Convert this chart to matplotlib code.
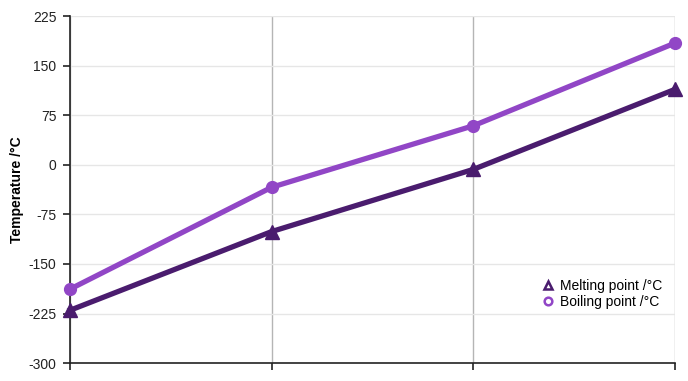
import matplotlib.pyplot as plt
from matplotlib.lines import Line2D

# Halogens: melting and boiling points
ELEMENTS = ["F", "Cl", "Br", "I"]
MELTING = [-220, -101, -7, 114]
BOILING = [-188, -34, 59, 184]
Y_TICKS = [-300, -225, -150, -75, 0, 75, 150, 225]

MELT_COLOR = "#4a1c6e"
BOIL_COLOR = "#9146c6"

plt.rcParams["font.family"] = ["Liberation Sans", "DejaVu Sans"]
plt.rcParams["axes.unicode_minus"] = False

fig = plt.figure(figsize=(6.88, 3.81), dpi=100)
ax = fig.add_axes([0.102, 0.047, 0.879, 0.911])

x = list(range(len(ELEMENTS)))

ax.plot(x, MELTING, color=MELT_COLOR, lw=3.8, marker="^", ms=10, zorder=3, clip_on=False)
ax.plot(x, BOILING, color=BOIL_COLOR, lw=3.8, marker="o", ms=8.5, zorder=3, clip_on=False)

ax.set_xlim(0, 3)
ax.set_ylim(-300, 225)
ax.set_yticks(Y_TICKS)
ax.set_xticks(x)
ax.set_xticklabels([])

ax.grid(axis="y", color="#e6e6e6", lw=1)
ax.grid(axis="x", color="#b5b5b5", lw=1)
ax.set_axisbelow(True)

for s in ["top", "right"]:
    ax.spines[s].set_visible(False)
ax.spines["left"].set_color("#222222")
ax.spines["bottom"].set_color("#222222")
ax.spines["left"].set_linewidth(1.2)
ax.spines["bottom"].set_linewidth(1.2)
ax.tick_params(axis="both", direction="out", length=5, width=1.2, colors="#222222", labelsize=10)
ax.tick_params(axis="y", pad=5)

ax.set_ylabel("Temperature /°C", fontsize=10, fontweight="bold", labelpad=3)

handles = [
    Line2D([], [], ls="none", marker="^", ms=6, mfc="white", mec=MELT_COLOR, mew=1.8),
    Line2D([], [], ls="none", marker="o", ms=5.5, mfc="white", mec=BOIL_COLOR, mew=1.8),
]
ax.legend(handles, ["Melting point /°C", "Boiling point /°C"], loc="lower right",
          bbox_to_anchor=(1.0, 0.12), frameon=False, fontsize=10,
          handletextpad=0.3, labelspacing=0.15, handlelength=1.2)

fig.savefig("out.png", dpi=100)
